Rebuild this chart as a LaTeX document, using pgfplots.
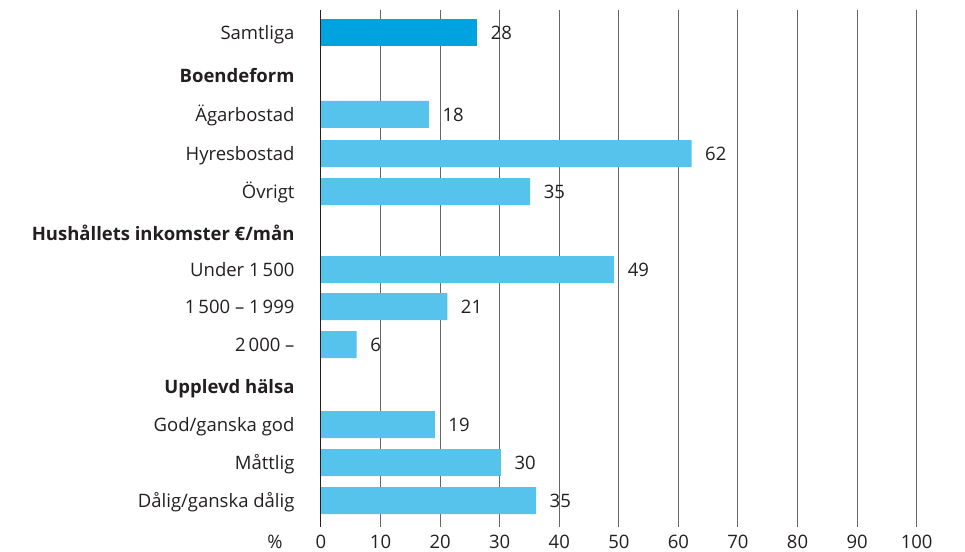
\documentclass[border=0pt]{standalone}
\usepackage{fontspec}
\setmainfont{Open Sans}
\usepackage{pgfplots}
\pgfplotsset{compat=1.18}
\usetikzlibrary{calc}
\definecolor{dblue}{HTML}{00A3E0}
\definecolor{lblue}{HTML}{56C3EC}
\definecolor{txt}{HTML}{231F20}
\definecolor{gridc}{HTML}{666666}
\begin{document}
\begin{tikzpicture}[font=\fontsize{18.5bp}{21bp}\selectfont, text=txt]
\begin{axis}[
  name=ax,
  scale only axis,
  width=595.7bp, height=517bp,
  xmin=0, xmax=100, ymin=10, ymax=527, y dir=reverse,
  axis line style={draw=none},
  major tick length=0pt,
  xtick={0,10,...,100},
  xmajorgrids,
  grid style={gridc, line width=1bp},
  xticklabel style={anchor=base, yshift=-21bp, text=txt},
  ytick={32.5,75.5,114.5,153.5,191.5,233,269.5,306.5,344.5,386.5,424.5,462.5,500.5},
  yticklabels={Samtliga,\textbf{Boendeform},Ägarbostad,Hyresbostad,Övrigt,\textbf{Hushållets inkomster €/mån},Under 1\,500,1\,500 – 1\,999,2\,000 –,\textbf{Upplevd hälsa},God/ganska god,Måttlig,Dålig/ganska dålig},
  yticklabel style={anchor=base east, xshift=-23bp, yshift=-7bp, text=txt},
  /pgf/number format/assume math mode=true,
  nodes near coords style={anchor=base west, xshift=13.5bp, yshift=-7bp, inner sep=0pt, text=txt},
  clip=false,
]
\addplot[xbar, fill=dblue, draw=none, bar width=27bp, bar shift=0pt, nodes near coords, point meta=explicit symbolic]
  table[meta=lab] {
x y lab
26.2 32.5 28
};
\addplot[xbar, fill=lblue, draw=none, bar width=27bp, bar shift=0pt, nodes near coords, point meta=explicit symbolic]
  table[meta=lab] {
x y lab
18.1 114.5 18
62.2 153.5 62
35.1 191.5 35
49.2 269.5 49
21.2 306.5 21
6.0 344.5 6
19.1 424.5 19
30.2 462.5 30
36.1 500.5 35
};
\draw[txt, line width=1bp] (axis cs:0,10) -- (axis cs:0,527);
\node[anchor=base, yshift=-21bp, xshift=-46bp, inner sep=0pt] at (rel axis cs:0,0) {\%};
\end{axis}
\pgfresetboundingbox
\path ($(ax.south west)+(-321bp,-25bp)$) rectangle ($(ax.north east)+(48.3bp,10bp)$);
\end{tikzpicture}
\end{document}
